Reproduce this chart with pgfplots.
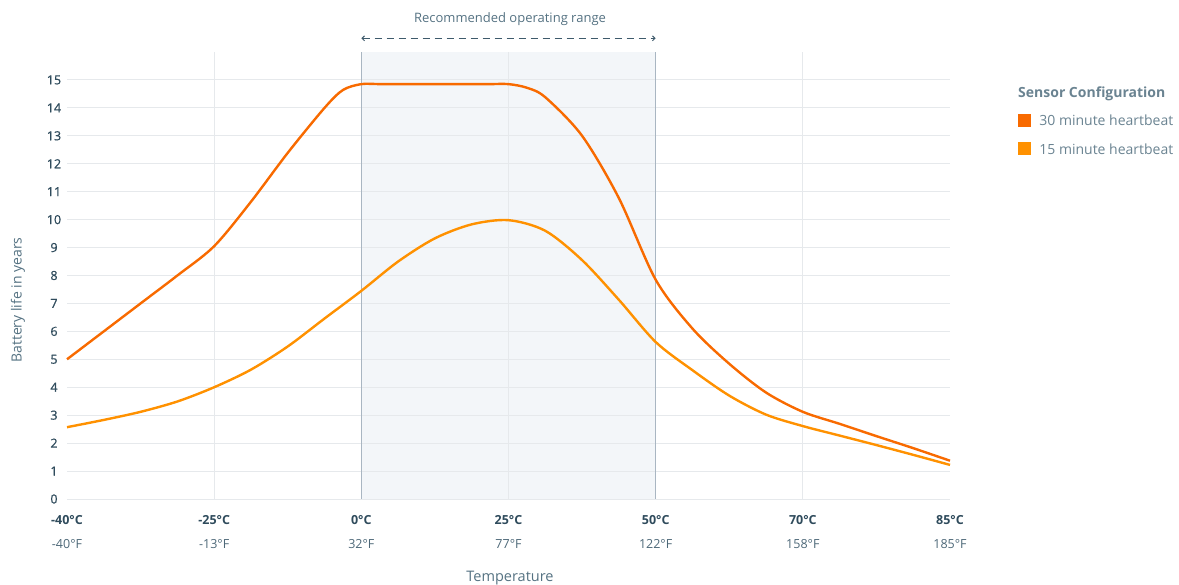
\documentclass[border=0pt]{standalone}
\usepackage{fontspec}
\setmainfont{Open Sans}
\newfontfamily\semib{Open Sans}[FakeBold=0.8]
\usepackage{pgfplots}
\pgfplotsset{compat=1.18}
\usetikzlibrary{arrows.meta}
\definecolor{c30}{HTML}{F86A00}
\definecolor{c15}{HTML}{FF9100}
\definecolor{tickdark}{HTML}{2F4B5C}
\definecolor{ticklight}{HTML}{4D6878}
\definecolor{labelc}{HTML}{557282}
\definecolor{legc}{HTML}{6A8391}
\definecolor{gridc}{HTML}{E6E9EC}
\definecolor{shade}{HTML}{F3F6F9}
\definecolor{bound}{HTML}{A9B6C2}
\definecolor{arrowc}{HTML}{3E5A6B}
\begin{document}
\begin{tikzpicture}
\begin{axis}[
  set layers,
  scale only axis, width=883pt, height=447pt,
  at={(0pt,0pt)}, anchor=south west,
  xmin=0, xmax=6, ymin=0, ymax=16,
  clip=false,
  axis line style={draw=none},
  major tick length=0pt,
  xtick={0,1,2,3,4,5,6},
  xticklabels={{-40°C\\\color{ticklight}\mdseries -40°F},
               {-25°C\\\color{ticklight}\mdseries -13°F},
               {0°C\\\color{ticklight}\mdseries 32°F},
               {25°C\\\color{ticklight}\mdseries 77°F},
               {50°C\\\color{ticklight}\mdseries 122°F},
               {70°C\\\color{ticklight}\mdseries 158°F},
               {85°C\\\color{ticklight}\mdseries 185°F}},
  xticklabel style={font=\fontsize{12.5}{24}\selectfont\bfseries, text=tickdark, align=center, anchor=north, inner sep=0pt, yshift=-16pt},
  ytick={0,1,...,15},
  /pgf/number format/assume math mode=true,
  yticklabel style={font=\fontsize{12.5}{15}\selectfont\semib, text=tickdark, anchor=center, inner sep=0pt, xshift=-13pt},
  ymajorgrids,
  major grid style={gridc, line width=0.9pt},
  extra x ticks={1,3,5},
  extra x tick labels={},
  extra x tick style={grid=major},
  legend image code/.code={\fill[#1] (0pt,-5.5pt) rectangle (11pt,5.5pt);},
  legend style={at={(1.0770,0.862)}, anchor=north west, draw=none, fill=none,
    inner sep=0pt, outer sep=0pt, row sep=15pt, column sep=8pt,
    font=\fontsize{14}{17}\selectfont, text=legc,
    nodes={inner sep=0pt, text height=11pt, text depth=0pt}},
  legend cell align=left,
]
\addplot[fill=shade, draw=none, forget plot, on layer=axis background] coordinates {(2,0) (2,16) (4,16) (4,0)} -- cycle;
\addplot[bound, line width=1pt, forget plot] coordinates {(2,0) (2,16)};
\addplot[bound, line width=1pt, forget plot] coordinates {(4,0) (4,16)};

\addplot[color=c30, line width=2.4pt, smooth, tension=0.5] coordinates {
(0,5.0)(0.25,6.0)(0.5,7.0)(0.75,8.0)(1,9.05)(1.25,10.64)(1.5,12.39)(1.75,14.0)(1.875,14.64)(2,14.85)(2.125,14.85)(2.25,14.85)(2.5,14.85)(2.75,14.85)(2.875,14.85)(3,14.85)(3.125,14.72)(3.25,14.38)(3.5,13.0)(3.75,10.77)(4,7.85)(4.25,6.1)(4.5,4.84)(4.75,3.81)(5,3.12)(5.25,2.69)(5.5,2.25)(5.75,1.82)(6,1.37)};
\addlegendentry{30 minute heartbeat}
\addplot[color=c15, line width=2.4pt, smooth, tension=0.5] coordinates {
(0,2.57)(0.25,2.83)(0.5,3.12)(0.75,3.49)(1,4.0)(1.25,4.63)(1.5,5.46)(1.75,6.46)(2,7.45)(2.25,8.5)(2.5,9.33)(2.75,9.83)(3,9.98)(3.25,9.6)(3.5,8.55)(3.75,7.13)(4,5.62)(4.25,4.61)(4.5,3.7)(4.75,3.02)(5,2.61)(5.25,2.27)(5.5,1.93)(5.75,1.58)(6,1.22)};
\addlegendentry{15 minute heartbeat}

\draw[arrowc, line width=1pt, dash pattern=on 7pt off 5pt, {Straight Barb[length=2.5pt,width=5pt]}-{Straight Barb[length=2.5pt,width=5pt]}] (axis cs:2,16.49) -- (axis cs:4,16.49);
\node[anchor=base, inner sep=0pt, font=\fontsize{13}{15}\selectfont, text=labelc] at (axis description cs:0.5017,1.066) {Recommended operating range};
\node[anchor=base west, inner sep=0pt, font=\fontsize{14}{17}\selectfont\bfseries, text=legc] at (axis description cs:1.0770,0.8993) {Sensor Configuration};
\node[rotate=90, anchor=center, inner sep=0pt, font=\fontsize{14}{17}\selectfont, text=labelc] at (axis description cs:-0.0555,0.445) {Battery life in years};
\node[anchor=north, inner sep=0pt, font=\fontsize{14.5}{17}\selectfont, text=labelc] at (axis description cs:0.5017,-0.161) {Temperature};
\end{axis}
\pgfresetboundingbox
\path[use as bounding box] (-67pt,-86pt) rectangle (1112pt,499pt);
\end{tikzpicture}
\end{document}
